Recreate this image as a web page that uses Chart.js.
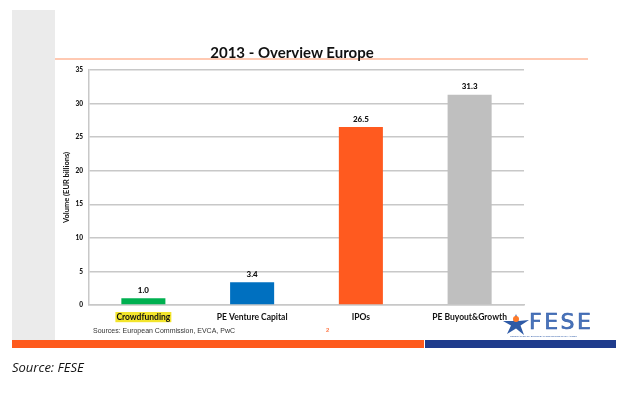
<!DOCTYPE html>
<html>
<head>
<meta charset="utf-8">
<script src="https://cdn.jsdelivr.net/npm/chart.js@4"></script>
<style>
  body { margin: 0; background: #fff; }
  #wrap { position: relative; width: 637px; height: 396px; overflow: hidden; }
  #panel { position: absolute; left: 12px; top: 10px; width: 43px; height: 330px; background: #ebebeb; }
  #titleLine { position: absolute; left: 55px; top: 58px; width: 533px; height: 2px; background: #ffc9b2; }
  #title { position: absolute; left: 192px; width: 200px; top: 43px; text-align: center;
    font: bold 15px Lato, sans-serif; color: #111; }
  #barOrange { position: absolute; left: 12px; top: 340px; width: 412px; height: 8px; background: #fe5a1d; }
  #barBlue { position: absolute; left: 425px; top: 340px; width: 191px; height: 8px; background: #1f3c8c; }
  #sources { position: absolute; left: 93px; top: 327px; font: 7px "Liberation Sans", Arial, sans-serif; color: #333; }
  #pageNo { position: absolute; left: 326px; top: 327px; font: bold 6px "Liberation Sans", Arial, sans-serif; color: #ff7a4a; }
  #sourceFese { position: absolute; left: 12px; top: 358px; font: italic 13px "Open Sans", sans-serif; color: #111; }
  #logo { position: absolute; left: 502px; top: 312px; width: 112px; height: 28px; }
  #logoText { position: absolute; left: 27px; top: -3px; font: 22px "DejaVu Sans", sans-serif; color: #4a74bb;
    -webkit-text-stroke: 0.6px #2e5aa6; letter-spacing: 2.5px; }
  #logoSub { position: absolute; left: 8px; top: 23px; font: 2.5px "Liberation Sans", sans-serif; color: #2e5aa6; white-space: nowrap; }
  canvas { position: absolute; left: 0; top: 0; }
</style>
</head>
<body>
<div id="wrap">
  <div id="panel"></div>
  <div id="titleLine"></div>
  <div id="barOrange"></div>
  <div id="barBlue"></div>
  <canvas id="chart" width="637" height="396"></canvas>
  <div id="title">2013 - Overview Europe</div>
  <div id="sources">Sources: European Commission, EVCA, PwC</div>
  <div id="pageNo">2</div>
  <div id="logo">
    <svg width="28" height="24" viewBox="0 0 28 24" style="position:absolute;left:0;top:0">
      <polygon points="14,2 16.5,9 27,8 18.5,13.5 22,23 14,16.5 5,22 9,13.5 1,9 11.5,9" fill="#2e5aa6"/>
      <circle cx="14" cy="7" r="3" fill="#fe7a2a"/>
    </svg>
    <div id="logoText">FESE</div>
    <div id="logoSub">FEDERATION OF EUROPEAN SECURITIES EXCHANGES</div>
  </div>
  <div id="sourceFese">Source: FESE</div>
</div>
<script>
// Chart data
const categories = ["Crowdfunding", "PE Venture Capital", "IPOs", "PE Buyout&Growth"];
const volumes = [1.0, 3.4, 26.5, 31.3];
const barColors = ["#00b050", "#0070c0", "#ff5a1f", "#bfbfbf"];
const yTicks = [0, 5, 10, 15, 20, 25, 30, 35];

// value labels above bars
const valueLabels = {
  id: "valueLabels",
  afterDatasetsDraw(chart) {
    const ctx = chart.ctx;
    const meta = chart.getDatasetMeta(0);
    ctx.save();
    ctx.font = "900 8px Lato, sans-serif";
    ctx.fillStyle = "#111";
    ctx.textAlign = "center";
    ctx.textBaseline = "bottom";
    meta.data.forEach((bar, i) => {
      ctx.fillText(volumes[i].toFixed(1), bar.x, bar.y - 4);
    });
    ctx.restore();
  },
};

new Chart(document.getElementById("chart"), {
  type: "bar",
  data: {
    labels: categories,
    datasets: [
      {
        data: volumes,
        backgroundColor: barColors,
        borderWidth: 0,
        barPercentage: 0.405,
        categoryPercentage: 1,
      },
    ],
  },
  options: {
    responsive: false,
    animation: false,
    layout: { padding: { left: 49, right: 113, top: 70, bottom: 66 } },
    plugins: {
      legend: { display: false },
      tooltip: { enabled: false },
    },
    scales: {
      x: {
        afterFit: (s) => { s.height = 25; },
        grid: { display: false, drawTicks: false },
        border: { display: true, color: "#c8c8c8", width: 1.5 },
        ticks: {
          color: "#111",
          padding: 7,
          font: { family: "Lato", size: 8.5, weight: "bold" },
          showLabelBackdrop: true,
          backdropColor: (c) => (c.index === 0 ? "#f3e52c" : "rgba(0,0,0,0)"),
          backdropPadding: { top: 0, bottom: 0, left: 1, right: 1 },
        },
      },
      y: {
        min: 0,
        max: 35,
        afterFit: (s) => { s.width = 40; },
        afterBuildTicks: (s) => { s.ticks = yTicks.map((v) => ({ value: v })); },
        grid: { color: "#c8c8c8", lineWidth: 1.5, drawTicks: false },
        border: { display: true, color: "#c8c8c8", width: 1.5 },
        ticks: {
          color: "#111",
          padding: 6,
          font: { family: "Lato", size: 6.5, weight: "900" },
        },
        title: {
          display: true,
          text: "Volume (EUR billions)",
          color: "#111",
          font: { family: "Lato", size: 7.5, weight: "bold" },
          padding: { top: 13, bottom: 0 },
        },
      },
    },
  },
  plugins: [valueLabels],
});
</script>
</body>
</html>
